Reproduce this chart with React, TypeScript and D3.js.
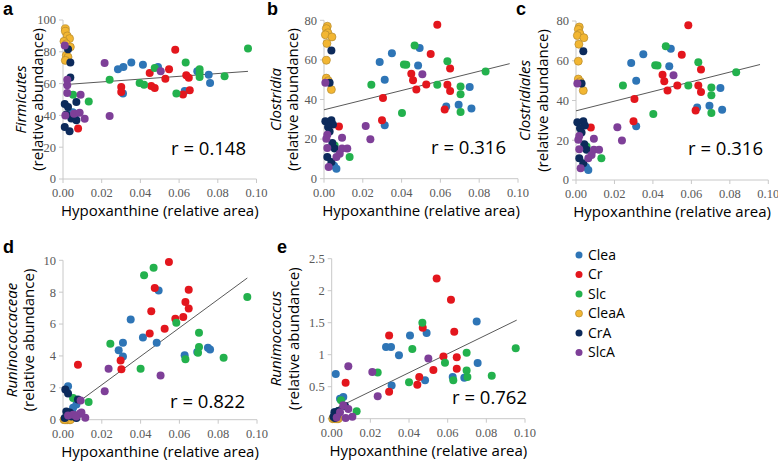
import * as d3 from 'd3'

// groups in Excel series order (later ones draw on top)
const groups = ['Clea', 'Cr', 'Slc', 'CleaA', 'CrA', 'SlcA']
const groupColors = ['#2e75b6', '#e3161d', '#23b14d', '#f2b632', '#0c2a5b', '#7e3f98']

type Pt = [string, number, number] // group, hypoxanthine, abundance

const firmicutes: Pt[] = [
  ['Clea', 0.0284, 69], ['Clea', 0.0312, 70.4], ['Clea', 0.0353, 73.2], ['Clea', 0.0413, 71.9],
  ['Clea', 0.0491, 70.4], ['Clea', 0.031, 53.7], ['Clea', 0.0629, 55.3], ['Clea', 0.0694, 67.7],
  ['Clea', 0.0753, 65.6], ['Clea', 0.076, 60.4], ['Clea', 0.005, 42], ['Clea', 0.0065, 41],
  ['Cr', 0.058, 81.3], ['Cr', 0.0448, 66.7], ['Cr', 0.0548, 69], ['Cr', 0.0529, 63.1],
  ['Cr', 0.0301, 57.9], ['Cr', 0.0301, 54.7], ['Cr', 0.0456, 58.5], ['Cr', 0.0474, 57.2],
  ['Cr', 0.0637, 65.2], ['Cr', 0.065, 63.7], ['Cr', 0.062, 53.2], ['Cr', 0.0655, 55.8], ['Cr', 0.0078, 31.7],
  ['Slc', 0.0956, 82], ['Slc', 0.0241, 62.5], ['Slc', 0.0396, 60.4], ['Slc', 0.0419, 59.3],
  ['Slc', 0.0474, 69.8], ['Slc', 0.0586, 53.7], ['Slc', 0.0634, 73.2], ['Slc', 0.0706, 69],
  ['Slc', 0.0706, 66.7], ['Slc', 0.0706, 64.2], ['Slc', 0.0835, 64.6], ['Slc', 0.0052, 53], ['Slc', 0.0133, 48.8],
  ['CleaA', 0.0012, 94.5], ['CleaA', 0.0012, 92.9], ['CleaA', 0.0022, 90], ['CleaA', 0.0034, 88.3],
  ['CleaA', 0.0005, 86.6], ['CleaA', 0.0017, 85], ['CleaA', 0.0038, 83], ['CleaA', 0.0017, 77.8],
  ['CleaA', 0.0026, 76.7], ['CleaA', 0.0012, 74.6],
  ['CrA', 0.0026, 81.6], ['CrA', 0.0038, 73.2], ['CrA', 0.0038, 63.9], ['CrA', 0.0009, 47.2],
  ['CrA', 0.0069, 48.4], ['CrA', 0.0026, 45.3], ['CrA', 0.0043, 38], ['CrA', 0.0009, 32.7],
  ['CrA', 0.0034, 30], ['CrA', 0.0069, 36.9], ['CrA', 0.0017, 40.5],
  ['SlcA', 0.0215, 73], ['SlcA', 0.0505, 67.7], ['SlcA', 0.0241, 39.6], ['SlcA', 0.0009, 84],
  ['SlcA', 0.0022, 62.5], ['SlcA', 0.0022, 58.9], ['SlcA', 0.0022, 54.1], ['SlcA', 0.0091, 53],
  ['SlcA', 0.0012, 40], ['SlcA', 0.0057, 41.1], ['SlcA', 0.0086, 41.7], ['SlcA', 0.0112, 37.9],
]

const clostridia: Pt[] = [
  ['Clea', 0.0287, 58.9], ['Clea', 0.0313, 50], ['Clea', 0.035, 63.3], ['Clea', 0.0485, 57.2],
  ['Clea', 0.0493, 66], ['Clea', 0.0313, 27], ['Clea', 0.063, 36.5], ['Clea', 0.0694, 37.4],
  ['Clea', 0.0751, 46.3], ['Clea', 0.076, 35.4], ['Clea', 0.0052, 6.5], ['Clea', 0.0064, 5],
  ['Cr', 0.0584, 77.8], ['Cr', 0.055, 63], ['Cr', 0.045, 53], ['Cr', 0.0459, 49.7],
  ['Cr', 0.0476, 45], ['Cr', 0.0527, 47.6], ['Cr', 0.0304, 40.7], ['Cr', 0.0299, 29.5],
  ['Cr', 0.0636, 47.5], ['Cr', 0.065, 44.3], ['Cr', 0.065, 55.6], ['Cr', 0.0622, 35], ['Cr', 0.0077, 26.4],
  ['Slc', 0.0467, 67.3], ['Slc', 0.0412, 57.7], ['Slc', 0.0424, 57.6], ['Slc', 0.0244, 47.5],
  ['Slc', 0.0402, 33.2], ['Slc', 0.0584, 47.5], ['Slc', 0.0636, 59.3], ['Slc', 0.0704, 46.6],
  ['Slc', 0.0704, 42.6], ['Slc', 0.0704, 33.7], ['Slc', 0.0833, 54.2], ['Slc', 0.0055, 16.8], ['Slc', 0.0132, 11],
  ['CleaA', 0.0017, 77], ['CleaA', 0.0012, 75.8], ['CleaA', 0.002, 73.7], ['CleaA', 0.0007, 72.7],
  ['CleaA', 0.0041, 71.6], ['CleaA', 0.0015, 68.3], ['CleaA', 0.0012, 59.8], ['CleaA', 0.0012, 50.8],
  ['CleaA', 0.0022, 49.5], ['CleaA', 0.0038, 45],
  ['CrA', 0.0038, 64.8], ['CrA', 0.0029, 48.5], ['CrA', 0.0007, 29], ['CrA', 0.0038, 29.5],
  ['CrA', 0.0046, 27.4], ['CrA', 0.0021, 26.1], ['CrA', 0.0029, 23.9], ['CrA', 0.0017, 10.9],
  ['CrA', 0.0038, 8.4], ['CrA', 0.0055, 15.2], ['CrA', 0.0043, 18],
  ['SlcA', 0.0007, 48.5], ['SlcA', 0.0507, 52.7], ['SlcA', 0.0215, 26.6], ['SlcA', 0.0239, 19.9],
  ['SlcA', 0.0093, 20.7], ['SlcA', 0.0017, 22.2], ['SlcA', 0.0012, 20.2], ['SlcA', 0.0017, 15.5],
  ['SlcA', 0.0093, 15.2], ['SlcA', 0.012, 15.2], ['SlcA', 0.0081, 12.6], ['SlcA', 0.0064, 10.9],
  ['SlcA', 0.0024, 5.9],
]

// panel c reads the same as panel b
const clostridiales: Pt[] = clostridia

const runinococcaceae: Pt[] = [
  ['Clea', 0.0493, 8.1], ['Clea', 0.0349, 6.28], ['Clea', 0.0412, 5.15], ['Clea', 0.0309, 4.83],
  ['Clea', 0.0287, 4.35], ['Clea', 0.0309, 3.97], ['Clea', 0.0483, 4.83], ['Clea', 0.0627, 4.04],
  ['Clea', 0.0747, 4.52], ['Clea', 0.0758, 4.41], ['Clea', 0.0692, 4.25], ['Clea', 0.0026, 2.1],
  ['Clea', 0.0052, 0.75], ['Clea', 0.0069, 0.95],
  ['Cr', 0.0546, 9.9], ['Cr', 0.0473, 8.26], ['Cr', 0.0455, 6.8], ['Cr', 0.0648, 8.16],
  ['Cr', 0.0631, 7.38], ['Cr', 0.0648, 6.97], ['Cr', 0.0579, 6.34], ['Cr', 0.062, 6.44],
  ['Cr', 0.0524, 5.71], ['Cr', 0.0447, 5.4], ['Cr', 0.0297, 3.72], ['Cr', 0.0301, 3.16], ['Cr', 0.0077, 3.45],
  ['Slc', 0.0467, 9.54], ['Slc', 0.0418, 9.06], ['Slc', 0.0584, 6.09], ['Slc', 0.0244, 4.77],
  ['Slc', 0.04, 3.2], ['Slc', 0.0701, 5.46], ['Slc', 0.0701, 4.56], ['Slc', 0.0696, 4.2],
  ['Slc', 0.0631, 3.79], ['Slc', 0.0828, 3.89], ['Slc', 0.095, 7.7], ['Slc', 0.0052, 1.36], ['Slc', 0.0132, 1.11],
  ['CleaA', 0.0005, 0], ['CleaA', 0.0012, 0], ['CleaA', 0.0017, 0], ['CleaA', 0.0022, 0],
  ['CleaA', 0.0026, 0], ['CleaA', 0.0034, 0], ['CleaA', 0.0038, 0], ['CleaA', 0.0009, 0],
  ['CrA', 0.0012, 1.9], ['CrA', 0.0026, 1.65], ['CrA', 0.0077, 1.26], ['CrA', 0.0017, 0.52],
  ['CrA', 0.0034, 0.45], ['CrA', 0.0043, 0.2], ['CrA', 0.0009, 0.1], ['CrA', 0.0055, 0.3],
  ['CrA', 0.0038, 0.4], ['CrA', 0.0069, 0.1],
  ['SlcA', 0.0235, 3.2], ['SlcA', 0.0215, 1.78], ['SlcA', 0.0503, 2.78], ['SlcA', 0.0091, 1.21],
  ['SlcA', 0.0052, 0.31], ['SlcA', 0.0086, 0.38], ['SlcA', 0.0115, 0.12], ['SlcA', 0.0026, 0.27],
  ['SlcA', 0.0069, 0.2], ['SlcA', 0.0095, 0.45],
]

const runimococcus: Pt[] = [
  ['Clea', 0.075, 1.52], ['Clea', 0.0491, 1.34], ['Clea', 0.0405, 1.3], ['Clea', 0.0281, 1.12],
  ['Clea', 0.0307, 1.12], ['Clea', 0.0348, 0.99], ['Clea', 0.0755, 0.87], ['Clea', 0.0483, 0.6],
  ['Clea', 0.0626, 0.65], ['Clea', 0.0686, 0.64], ['Clea', 0.031, 0.52], ['Clea', 0.0021, 0.7],
  ['Clea', 0.0043, 0.31], ['Clea', 0.006, 0.34], ['Clea', 0.0017, 0.1],
  ['Cr', 0.0543, 2.19], ['Cr', 0.0617, 1.86], ['Cr', 0.0634, 1.36], ['Cr', 0.0297, 1.3],
  ['Cr', 0.0471, 1.42], ['Cr', 0.0578, 0.97], ['Cr', 0.0647, 0.96], ['Cr', 0.0647, 0.78],
  ['Cr', 0.0526, 0.76], ['Cr', 0.0453, 0.65], ['Cr', 0.0443, 0.53], ['Cr', 0.0297, 0.42], ['Cr', 0.0072, 0.56],
  ['Slc', 0.0469, 1.5], ['Slc', 0.0417, 1.09], ['Slc', 0.0586, 0.875], ['Slc', 0.0698, 1.03],
  ['Slc', 0.0698, 0.755], ['Slc', 0.0702, 0.65], ['Slc', 0.0629, 0.6], ['Slc', 0.04, 0.57],
  ['Slc', 0.0828, 0.67], ['Slc', 0.0952, 1.1], ['Slc', 0.0238, 0.72], ['Slc', 0.0129, 0.115], ['Slc', 0.0048, 0.29],
  ['CleaA', 0.0005, 0], ['CleaA', 0.0012, 0], ['CleaA', 0.0017, 0], ['CleaA', 0.0022, 0],
  ['CleaA', 0.0026, 0], ['CleaA', 0.0034, 0], ['CleaA', 0.003, 0],
  ['CrA', 0.0014, 0.1], ['CrA', 0.0026, 0.05], ['CrA', 0.0069, 0.2], ['CrA', 0.0009, 0.03],
  ['CrA', 0.0034, 0.12], ['CrA', 0.0017, 0.01],
  ['SlcA', 0.0086, 0.82], ['SlcA', 0.021, 0.73], ['SlcA', 0.0238, 0.35], ['SlcA', 0.05, 0.94],
  ['SlcA', 0.006, 0.21], ['SlcA', 0.0086, 0.15], ['SlcA', 0.0107, 0.03], ['SlcA', 0.0072, 0.01],
  ['SlcA', 0.0043, 0.1], ['SlcA', 0.0026, 0.02],
]

const xTicks = [0, 0.02, 0.04, 0.06, 0.08, 0.1]
const firmicutesTicks = [0, 20, 40, 60, 80, 100]
const clostridiaTicks = [0, 20, 40, 60, 80]
const runinococcaceaeTicks = [0, 2, 4, 6, 8, 10]
const runimococcusTicks = [0, 0.5, 1, 1.5, 2, 2.5]

// trend lines as drawn (start, end)
const fitFirmicutes = [[0, 59.3], [0.0956, 67.7]]
const fitClostridia = [[0, 34.8], [0.0957, 58.1]]
const fitClostridiales = [[0, 34.8], [0.0957, 58.1]]
const fitRuninococcaceae = [[0, 0.4], [0.095, 8.89]]
const fitRunimococcus = [[0, 0.13], [0.0957, 1.54]]

const rValues = ['0.148', '0.316', '0.316', '0.822', '0.762']

const SANS = '"Open Sans", "Noto Sans", sans-serif'
const TICKFONT = '"Liberation Serif", serif'

const panels = [
  { letter: 'a', taxon: 'Firmicutes', data: firmicutes, yTicks: firmicutesTicks, fit: fitFirmicutes,
    r: rValues[0], x0: 63, x1: 256.5, yTop: 20, yBot: 179, lx: [3, 15], tx: [21, 38], rx: 246, ry: 155 },
  { letter: 'b', taxon: 'Clostridia', data: clostridia, yTicks: clostridiaTicks, fit: fitClostridia,
    r: rValues[1], x0: 324, x1: 518, yTop: 20.3, yBot: 178.7, lx: [267, 15], tx: [276, 293], rx: 506, ry: 154 },
  { letter: 'c', taxon: 'Clostridiales', data: clostridiales, yTicks: clostridiaTicks, fit: fitClostridiales,
    r: rValues[2], x0: 576, x1: 768.3, yTop: 21, yBot: 180, lx: [516, 15], tx: [525, 543], rx: 763, ry: 155 },
  { letter: 'd', taxon: 'Runinococcaceae', data: runinococcaceae, yTicks: runinococcaceaeTicks, fit: fitRuninococcaceae,
    r: rValues[3], x0: 63, x1: 257, yTop: 260.3, yBot: 419.7, lx: [3, 253], tx: [12, 29], rx: 245, ry: 408 },
  { letter: 'e', taxon: 'Runimococcus', data: runimococcus, yTicks: runimococcusTicks, fit: fitRunimococcus,
    r: rValues[4], x0: 331.7, x1: 525, yTop: 258.7, yBot: 418.7, lx: [277, 253], tx: [276, 294], rx: 527, ry: 404 },
]

const color = d3.scaleOrdinal<string, string>().domain(groups).range(groupColors)

function Panel({ p }: { p: (typeof panels)[0] }) {
  const x = d3.scaleLinear().domain([0, 0.1]).range([p.x0, p.x1])
  const yMax = p.yTicks[p.yTicks.length - 1]
  const y = d3.scaleLinear().domain([0, yMax]).range([p.yBot, p.yTop])
  const line = d3.line<number[]>().x(d => x(d[0])).y(d => y(d[1]))
  const fmtX = d3.format('.2f')
  const cy = (p.yTop + p.yBot) / 2
  const sorted = [...p.data].sort((a, b) => groups.indexOf(a[0]) - groups.indexOf(b[0]))
  const axisColor = '#c8c8c8'

  return (
    <g>
      <text x={p.lx[0]} y={p.lx[1]} fontFamily="Arial, 'Liberation Sans', sans-serif" fontWeight="bold" fontSize={18}>
        {p.letter}
      </text>
      {/* axes */}
      <line x1={p.x0} x2={p.x0} y1={p.yTop} y2={p.yBot} stroke={axisColor} />
      <line x1={p.x0} x2={p.x1} y1={p.yBot} y2={p.yBot} stroke={axisColor} />
      {p.yTicks.map(t => (
        <g key={'y' + t}>
          <line x1={p.x0 - 4} x2={p.x0} y1={y(t)} y2={y(t)} stroke={axisColor} />
          <text x={p.x0 - 7} y={y(t)} dy="0.35em" textAnchor="end" fontFamily={TICKFONT} fontSize={12.5} fill="#595959">
            {String(t)}
          </text>
        </g>
      ))}
      {xTicks.map(t => (
        <g key={'x' + t}>
          <line x1={x(t)} x2={x(t)} y1={p.yBot} y2={p.yBot + 4} stroke={axisColor} />
          <text x={x(t)} y={p.yBot + 18} textAnchor="middle" fontFamily={TICKFONT} fontSize={12.5} fill="#595959">
            {fmtX(t)}
          </text>
        </g>
      ))}
      {/* titles */}
      <text x={(p.x0 + p.x1) / 2} y={p.yBot + 37} textAnchor="middle" fontFamily={SANS} fontSize={15} fill="#000">
        Hypoxanthine (relative area)
      </text>
      <text transform={`translate(${p.tx[0]},${cy}) rotate(-90)`} dy="0.35em" textAnchor="middle"
        fontFamily={SANS} fontStyle="italic" fontSize={15}>
        {p.taxon}
      </text>
      <text transform={`translate(${p.tx[1]},${cy}) rotate(-90)`} dy="0.35em" textAnchor="middle"
        fontFamily={SANS} fontSize={15}>
        (relative abundance)
      </text>
      {/* trend line */}
      <path d={line(p.fit) ?? ''} fill="none" stroke="#595959" strokeWidth={1} />
      {/* points */}
      {sorted.map((d, i) => (
        <circle key={i} cx={x(d[1])} cy={y(d[2])} r={4} fill={color(d[0])}
          stroke={d[0] === 'CleaA' ? '#b48a2c' : 'none'} strokeWidth={0.7} />
      ))}
      <text x={p.rx} y={p.ry} textAnchor="end" fontFamily={SANS} fontSize={18.5} fill="#000">
        r = {p.r}
      </text>
    </g>
  )
}

export default function App() {
  return (
    <svg width={778} height={461} style={{ position: 'absolute', left: 0, top: 0, background: '#fff' }}>
      {panels.map(p => <Panel key={p.letter} p={p} />)}
      <g>
        {groups.map((g, i) => (
          <g key={g}>
            <circle cx={579} cy={255 + i * 19.5} r={3.5} fill={color(g)}
              stroke={g === 'CleaA' ? '#b48a2c' : 'none'} strokeWidth={0.7} />
            <text x={588} y={255 + i * 19.5} dy="0.35em" fontFamily={SANS} fontSize={14} fill="#000">{g}</text>
          </g>
        ))}
      </g>
    </svg>
  )
}
